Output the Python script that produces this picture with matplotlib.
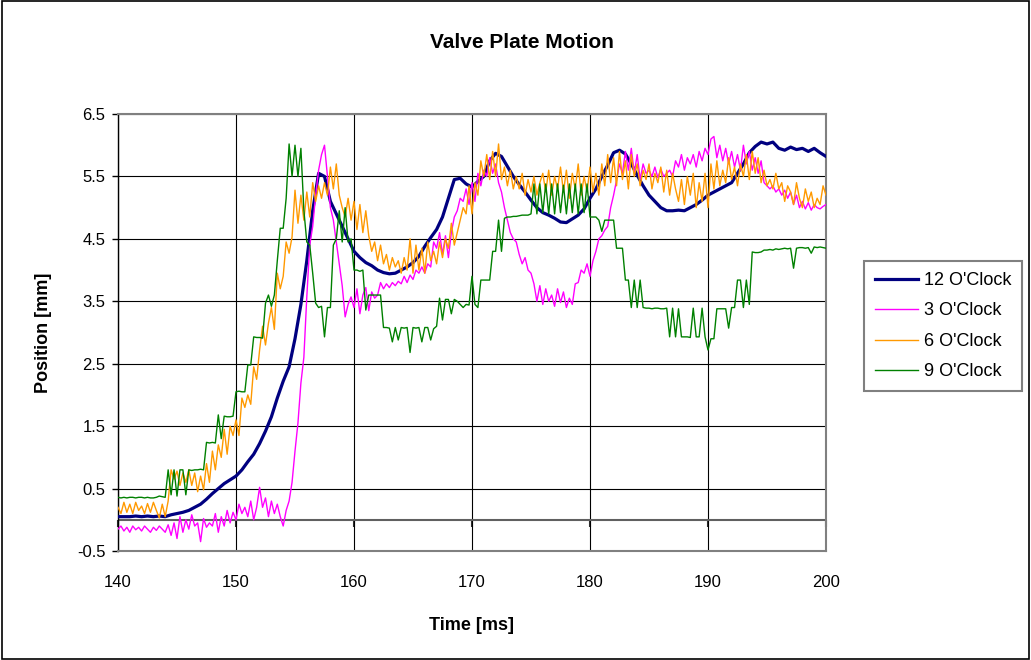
import numpy as np
import matplotlib
matplotlib.use('Agg')
import matplotlib.pyplot as plt
from matplotlib.patches import Rectangle

# plate position [mm], 12 O'Clock sampled every 0.5 ms, the others every 0.25 ms
pos_12 = [
    0.05, 0.05, 0.05, 0.06, 0.05, 0.06, 0.05, 0.06, 0.05, 0.08,
    0.10, 0.12, 0.15, 0.20, 0.25, 0.33, 0.42, 0.50, 0.58, 0.64,
    0.70, 0.80, 0.93, 1.05, 1.22, 1.42, 1.65, 1.95, 2.22, 2.45,
    2.90, 3.45, 4.15, 4.95, 5.55, 5.50, 5.10, 4.90, 4.70, 4.50,
    4.30, 4.20, 4.12, 4.07, 4.00, 3.96, 3.94, 3.95, 4.00, 4.05,
    4.12, 4.22, 4.38, 4.52, 4.65, 4.85, 5.15, 5.45, 5.47, 5.38,
    5.33, 5.42, 5.50, 5.75, 5.87, 5.82, 5.66, 5.50, 5.37, 5.25,
    5.12, 5.00, 4.92, 4.88, 4.83, 4.77, 4.76, 4.82, 4.88, 4.98,
    5.15, 5.30, 5.50, 5.68, 5.88, 5.92, 5.86, 5.70, 5.52, 5.35,
    5.20, 5.10, 5.00, 4.95, 4.95, 4.96, 4.95, 5.00, 5.05, 5.12,
    5.20, 5.25, 5.30, 5.35, 5.40, 5.55, 5.70, 5.88, 5.98, 6.05,
    6.02, 6.05, 5.95, 5.92, 5.97, 5.93, 5.95, 5.90, 5.95, 5.88,
    5.82,
]

pos_3 = [
    -0.15, -0.10, -0.18, -0.12, -0.20, -0.10, -0.16, -0.12,
    -0.18, -0.10, -0.15, -0.20, -0.12, -0.17, -0.10, -0.15,
    -0.20, -0.08, -0.25, -0.05, -0.30, 0.05, -0.20, 0.00,
    -0.15, 0.08, -0.10, -0.05, -0.35, 0.02, -0.12, -0.05,
    -0.10, 0.10, -0.20, 0.05, -0.10, 0.15, -0.05, 0.12,
    0.00, 0.25, 0.10, 0.20, 0.05, 0.30, 0.00, 0.20,
    0.52, 0.20, 0.35, 0.05, 0.30, 0.10, 0.25, 0.05,
    -0.10, 0.15, 0.30, 0.60, 1.10, 1.55, 2.19, 2.60,
    3.57, 4.40, 4.70, 5.20, 5.60, 5.85, 6.00, 5.50,
    5.00, 4.80, 4.45, 4.10, 3.75, 3.25, 3.45, 3.57,
    3.40, 3.70, 3.30, 3.60, 3.72, 3.35, 3.65, 3.55,
    3.60, 3.80, 3.70, 3.78, 3.72, 3.80, 3.75, 3.82,
    3.78, 3.90, 3.80, 3.92, 3.85, 4.00, 3.95, 4.05,
    3.95, 4.10, 4.05, 4.45, 4.35, 4.60, 4.25, 4.55,
    4.20, 4.60, 4.85, 4.95, 5.15, 5.10, 5.30, 5.05,
    5.40, 5.10, 5.55, 5.35, 5.60, 5.50, 5.80, 5.55,
    5.70, 5.40, 5.25, 5.00, 4.80, 4.60, 4.50, 4.45,
    4.25, 4.10, 4.20, 4.00, 3.95, 3.78, 3.50, 3.75,
    3.45, 3.70, 3.50, 3.60, 3.42, 3.70, 3.48, 3.65,
    3.40, 3.55, 3.45, 3.78, 3.80, 4.00, 3.95, 4.10,
    3.90, 4.15, 4.30, 4.50, 4.55, 4.64, 4.70, 5.00,
    5.20, 5.44, 5.70, 5.55, 5.90, 5.60, 5.95, 5.55,
    5.85, 5.45, 5.70, 5.55, 5.60, 5.50, 5.65, 5.48,
    5.62, 5.50, 5.55, 5.60, 5.50, 5.75, 5.65, 5.85,
    5.60, 5.80, 5.70, 5.85, 5.65, 5.90, 5.75, 5.95,
    5.85, 6.10, 6.14, 5.80, 6.00, 5.75, 5.95, 5.70,
    5.90, 5.65, 5.85, 5.60, 6.00, 5.70, 5.90, 5.60,
    5.80, 5.55, 5.75, 5.40, 5.35, 5.30, 5.35, 5.25,
    5.30, 5.20, 5.28, 5.15, 5.25, 5.05, 5.20, 5.00,
    5.10, 4.98, 5.08, 4.96, 5.05, 5.00, 4.98, 5.02,
    5.05,
]

pos_6 = [
    0.20, 0.10, 0.28, 0.12, 0.25, 0.10, 0.28, 0.15,
    0.22, 0.10, 0.26, 0.12, 0.28, 0.15, 0.03, 0.25,
    0.05, 0.30, 0.80, 0.65, 0.78, 0.55, 0.75, 0.60,
    0.80, 0.55, 0.75, 0.45, 0.70, 0.48, 0.90, 0.60,
    1.10, 0.80, 1.20, 1.00, 1.45, 1.05, 1.50, 1.35,
    1.60, 1.35, 1.95, 1.80, 2.00, 1.85, 2.45, 2.25,
    2.72, 3.10, 2.80, 3.15, 3.40, 3.05, 3.95, 3.70,
    3.90, 4.45, 4.27, 4.53, 5.28, 4.75, 5.20, 4.80,
    5.25, 4.85, 5.40, 5.10, 5.35, 5.15, 5.40, 5.20,
    5.65, 5.30, 5.70, 5.20, 5.00, 4.85, 5.15, 4.80,
    5.10, 4.65, 5.05, 4.60, 4.95, 4.55, 4.30, 4.45,
    4.15, 4.40, 4.10, 4.25, 4.00, 4.20, 4.05, 4.15,
    3.95, 4.20, 4.00, 4.50, 3.95, 4.40, 4.00, 4.35,
    3.95, 4.45, 4.15, 4.30, 4.10, 4.45, 4.20, 4.50,
    4.35, 4.75, 4.40, 4.60, 4.80, 5.00, 4.90, 5.35,
    4.90, 5.40, 5.20, 5.75, 5.50, 5.85, 5.45, 5.90,
    5.50, 6.02, 5.45, 5.65, 5.35, 5.60, 5.30, 5.50,
    5.30, 5.55, 5.20, 5.45, 5.25, 5.50, 5.20, 5.40,
    5.55, 5.25, 5.60, 5.20, 5.50, 5.30, 5.65, 5.25,
    5.60, 5.15, 5.55, 5.30, 5.70, 5.20, 5.50, 5.25,
    5.65, 5.25, 5.55, 5.20, 5.70, 5.35, 5.85, 5.40,
    5.80, 5.35, 5.90, 5.45, 5.75, 5.30, 5.85, 5.50,
    5.70, 5.35, 5.60, 5.45, 5.70, 5.30, 5.55, 5.40,
    5.65, 5.25, 5.60, 5.20, 5.55, 5.30, 5.10, 5.45,
    5.05, 5.50, 5.20, 5.55, 5.00, 5.40, 5.10, 5.55,
    5.00, 5.70, 5.30, 5.75, 5.35, 5.60, 5.40, 5.80,
    5.45, 5.65, 5.35, 5.70, 5.50, 5.85, 5.45, 5.90,
    5.55, 5.80, 5.40, 5.60, 5.35, 5.45, 5.30, 5.55,
    5.30, 5.40, 5.10, 5.35, 5.25, 5.05, 5.40, 5.15,
    5.00, 5.30, 5.10, 5.25, 5.00, 5.15, 5.05, 5.35,
    5.20,
]

pos_9 = [
    0.36, 0.35, 0.36, 0.35, 0.36, 0.36, 0.35, 0.36,
    0.36, 0.35, 0.36, 0.35, 0.35, 0.36, 0.38, 0.37,
    0.36, 0.80, 0.40, 0.80, 0.38, 0.80, 0.80, 0.40,
    0.80, 0.79, 0.80, 0.80, 0.81, 0.80, 1.24, 1.23,
    1.24, 1.23, 1.68, 1.30, 1.66, 1.65, 1.65, 1.66,
    2.05, 2.06, 2.05, 2.05, 2.48, 2.48, 2.93, 2.92,
    2.92, 2.91, 3.47, 3.60, 3.42, 3.60, 4.15, 4.67,
    4.67, 5.15, 6.02, 5.50, 6.00, 5.50, 5.95, 4.96,
    4.45, 4.40, 3.95, 3.47, 3.40, 3.42, 2.93, 3.40,
    3.40, 4.40, 4.50, 4.95, 4.45, 5.00, 4.45, 4.50,
    4.00, 4.00, 3.98, 4.00, 3.36, 3.60, 3.60, 3.60,
    3.60, 3.60, 3.08, 3.08, 3.07, 2.85, 3.08, 2.88,
    3.08, 3.07, 3.08, 2.68, 3.08, 3.07, 3.08, 2.85,
    3.08, 3.08, 2.88, 3.06, 3.10, 3.55, 3.20, 3.53,
    3.53, 3.30, 3.53, 3.50, 3.45, 3.40, 3.45, 3.44,
    3.90, 3.45, 3.40, 3.84, 3.84, 3.84, 3.84, 4.30,
    4.30, 4.80, 4.30, 4.83, 4.85, 4.85, 4.86, 4.86,
    4.87, 4.88, 4.88, 4.88, 4.90, 5.38, 4.90, 5.38,
    4.92, 5.38, 4.90, 5.38, 4.90, 5.38, 4.92, 5.36,
    4.90, 5.38, 4.92, 5.38, 4.90, 5.38, 4.92, 5.38,
    4.85, 4.85, 4.85, 4.80, 4.62, 4.80, 4.80, 4.80,
    4.80, 4.35, 4.35, 4.35, 3.84, 3.84, 3.40, 3.84,
    3.40, 3.84, 3.40, 3.39, 3.39, 3.38, 3.39, 3.39,
    3.38, 3.38, 3.39, 2.93, 3.39, 2.93, 3.38, 2.93,
    2.93, 2.93, 2.92, 3.39, 2.93, 2.93, 3.39, 2.93,
    2.72, 2.90, 2.90, 3.38, 3.38, 3.38, 3.38, 3.07,
    3.40, 3.40, 3.84, 3.84, 3.40, 3.84, 3.45, 4.29,
    4.28, 4.28, 4.29, 4.32, 4.32, 4.33, 4.32, 4.34,
    4.33, 4.34, 4.35, 4.34, 4.35, 4.03, 4.35, 4.36,
    4.36, 4.35, 4.36, 4.27, 4.37, 4.36, 4.37, 4.36,
    4.35,
]

labels = ["12 O'Clock", "3 O'Clock", "6 O'Clock", "9 O'Clock"]
colors = ['#000080', '#ff00ff', '#ff9900', '#008000']
x_ticks = [140, 150, 160, 170, 180, 190, 200]
y_ticks = [-0.5, 0.5, 1.5, 2.5, 3.5, 4.5, 5.5, 6.5]


def main():
    assert len(pos_12) == 121
    for s in (pos_3, pos_6, pos_9):
        assert len(s) == 241

    plt.rcParams['font.family'] = ['Liberation Sans', 'DejaVu Sans']

    fig = plt.figure(figsize=(10.31, 6.6), dpi=100)
    ax = fig.add_axes([118 / 1031, 1 - 551 / 660, 708 / 1031, 437 / 660])

    t_coarse = np.linspace(140, 200, len(pos_12))
    t_fine = np.linspace(140, 200, len(pos_3))

    ax.plot(t_coarse, pos_12, color=colors[0], lw=2.3, label=labels[0], zorder=3)
    ax.plot(t_fine, pos_3, color=colors[1], lw=1.0, label=labels[1], zorder=4)
    ax.plot(t_fine, pos_6, color=colors[2], lw=1.0, label=labels[2], zorder=5)
    ax.plot(t_fine, pos_9, color=colors[3], lw=1.0, label=labels[3], zorder=6)

    ax.set_xlim(140, 200)
    ax.set_ylim(-0.5, 6.5)
    ax.set_xticks(x_ticks)
    ax.set_yticks(y_ticks)
    ax.set_yticklabels([f'{v:g}' for v in y_ticks])
    ax.grid(True, color='black', lw=0.8)
    ax.set_axisbelow(True)

    for side in ('top', 'right', 'bottom'):
        ax.spines[side].set_color('#808080')
        ax.spines[side].set_linewidth(1.5)
    ax.spines['left'].set_color('black')
    ax.spines['left'].set_linewidth(1.0)

    ax.tick_params(axis='y', direction='out', length=4, width=1, labelsize=12, pad=5)
    ax.tick_params(axis='x', length=0, labelsize=12, pad=17)

    # horizontal axis line crosses at y = 0
    ax.axhline(0, color='#606060', lw=1.5, zorder=2)
    sec = ax.secondary_xaxis(0.5 / 7)
    sec.set_xticks(x_ticks)
    sec.tick_params(direction='out', length=5, width=1.5, color='#303030',
                    labelbottom=False)
    sec.spines['bottom'].set_visible(False)

    ax.set_xlabel('Time [ms]', fontsize=13, fontweight='bold', labelpad=20)
    ax.set_ylabel('Position [mm]', fontsize=13, fontweight='bold', labelpad=18)
    fig.text(522 / 1031, 1 - 43 / 660, 'Valve Plate Motion', fontsize=15,
             fontweight='bold', ha='center', va='center')

    leg = fig.legend(loc='upper left', bbox_to_anchor=(864 / 1031, 1 - 261 / 660),
                     fontsize=13, frameon=True, fancybox=False, borderaxespad=0,
                     handlelength=2.4, labelspacing=0.75, borderpad=0.6,
                     handletextpad=0.3)
    leg.get_frame().set_edgecolor('#606060')
    leg.get_frame().set_linewidth(1.5)

    fig.patches.append(Rectangle((0.002, 0.002), 0.996, 0.996, transform=fig.transFigure,
                                 fill=False, ec='black', lw=1.2))

    fig.savefig('out.png', dpi=100)


if __name__ == "__main__":
    main()
